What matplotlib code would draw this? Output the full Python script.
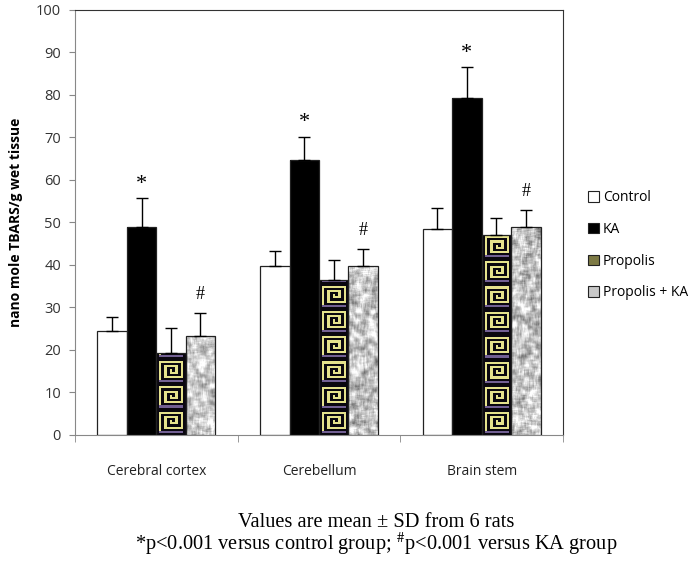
import numpy as np
import matplotlib
matplotlib.use("Agg")
import matplotlib.pyplot as plt
from matplotlib.patches import Patch

# data
regions = ["Cerebral cortex", "Cerebellum", "Brain stem"]
groups = ["Control", "KA", "Propolis", "Propolis + KA"]
control = [24.5, 39.7, 48.5]
control_sd = [3.2, 3.6, 5.0]
ka = [49.0, 64.7, 79.2]
ka_sd = [6.8, 5.5, 7.3]
propolis = [19.3, 36.5, 47.0]
propolis_sd = [5.8, 4.7, 4.0]
prop_ka = [23.3, 39.8, 49.0]
prop_ka_sd = [5.4, 4.0, 4.0]
star_marks = ["*", "*", "*"]      # over KA bars
hash_marks = ["#", "#", "#"]      # over Propolis + KA bars
footnote = ["Values are mean \u00b1 SD from 6 rats",
            "*p<0.001 versus control group; $^{\\#}$p<0.001 versus KA group"]

plt.rcParams['mathtext.fontset'] = 'stix'
sans = ['Open Sans', 'DejaVu Sans']
serif = ['Liberation Serif', 'DejaVu Serif']


def spiral_tile():
    # square spiral motif used for the Propolis bars
    pat = ["...........",
           ".#########.",
           ".#.......#.",
           ".#.#####.#.",
           ".#.#...#.#.",
           ".#.#.#.#.#.",
           ".#.#.###.#.",
           ".#.#.....#.",
           ".#.#######.",
           ".#.........",
           ".PPPPPPPPP.",
           "..........."]
    tile = np.zeros((len(pat), len(pat[0]), 3))
    for r, row in enumerate(pat):
        for c, ch in enumerate(row):
            if ch == '#':
                tile[r, c] = (0.90, 0.89, 0.55)
            elif ch == 'P':
                tile[r, c] = (0.45, 0.38, 0.58)
            else:
                tile[r, c] = (0.04, 0.03, 0.06)
    return tile


def marble(h, w, seed):
    # grey mottled texture for the Propolis + KA bars
    rng = np.random.default_rng(seed)
    n = rng.random((h + 4, w + 4))
    b = sum(np.roll(np.roll(n, i, 0), j, 1) for i in range(-2, 3) for j in range(-2, 3)) / 25
    b = b[2:-2, 2:-2]
    b = (b - b.min()) / (b.max() - b.min())
    g = np.clip(0.42 + 0.75 * b, 0, 1)
    return np.dstack([g, g, g])


fig = plt.figure(figsize=(6.97, 5.61), dpi=100)
ax = fig.add_axes([0.1076, 0.2246, 0.7001, 0.7576])

x = np.arange(len(regions))
w = 0.181
series = [(control, control_sd, 'white'), (ka, ka_sd, 'black'),
          (propolis, propolis_sd, '#7d7a45'), (prop_ka, prop_ka_sd, '#c8c8c8')]
containers = []
for i, (vals, sd, col) in enumerate(series):
    pos = x + (i - 1.5) * w
    bc = ax.bar(pos, vals, w, color=col, edgecolor='none', zorder=2)
    ax.bar(pos, vals, w, fill=False, edgecolor='#222222', linewidth=0.9, zorder=4)
    ax.errorbar(pos, vals, yerr=[np.zeros(len(vals)), sd], fmt='none',
                ecolor='black', elinewidth=1, capsize=4, capthick=1, zorder=5)
    containers.append(bc)

# textures clipped to the bars
tile = spiral_tile()
tile_h = 5.9
for k, bar in enumerate(containers[2]):
    x0, hgt = bar.get_x(), bar.get_height()
    nt = int(np.ceil(hgt / tile_h))
    img = np.vstack([tile] * nt)
    im = ax.imshow(img, extent=(x0, x0 + w, 0, nt * tile_h), origin='upper',
                   aspect='auto', interpolation='nearest', zorder=3)
    im.set_clip_path(bar)
for k, bar in enumerate(containers[3]):
    x0, hgt = bar.get_x(), bar.get_height()
    tex = marble(int(hgt * 4.25), 30, k + 3)
    im = ax.imshow(tex, extent=(x0, x0 + w, 0, hgt), aspect='auto',
                   interpolation='bilinear', zorder=3)
    im.set_clip_path(bar)

# significance marks
for i in range(len(regions)):
    ax.text(x[i] - 0.5 * w, ka[i] + ka_sd[i] + 1.0, star_marks[i], ha='center', va='bottom',
            fontsize=16, family=serif, zorder=6)
    ax.text(x[i] + 1.5 * w, prop_ka[i] + prop_ka_sd[i] + 2.3, hash_marks[i], ha='center',
            va='bottom', fontsize=13, family=serif, zorder=6)

ax.set_xlim(-0.5, 2.5)
ax.set_ylim(0, 100)
ax.set_yticks(np.arange(0, 101, 10))
ax.set_xticks(x)
ax.set_xticklabels(regions, family=sans, fontsize=10, color='#222222')
ax.set_xticks([-0.5, 0.5, 1.5, 2.5], minor=True)
ax.tick_params(axis='x', which='major', length=0, pad=21)
ax.tick_params(axis='x', which='minor', length=5, direction='out', color='#888888')
ax.tick_params(axis='y', length=4, direction='out', color='#888888', labelsize=10.5,
               labelcolor='#333333', pad=6)
for lab in ax.get_yticklabels():
    lab.set_family(sans)

for s in ['left', 'bottom']:
    ax.spines[s].set_color('#888888')
for s in ['top', 'right']:
    ax.spines[s].set_color('#333333')

ax.set_ylabel('nano mole TBARS/g wet tissue', family=sans, fontsize=10, fontweight='bold',
              labelpad=9)

handles = [Patch(facecolor=c, edgecolor='#222222', linewidth=0.8) for _, _, c in series]
fig.legend(handles, groups, loc='upper left', bbox_to_anchor=(0.826, 0.683), frameon=False,
           prop={'family': sans, 'size': 10}, handlelength=0.75, handleheight=0.75,
           handletextpad=0.3, labelspacing=1.2)

fig.text(0.54, 0.045, "\n".join(footnote), ha='center', va='center', multialignment='center',
         family=serif, fontsize=14.7, linespacing=0.95)

fig.savefig('out.png', dpi=100)
